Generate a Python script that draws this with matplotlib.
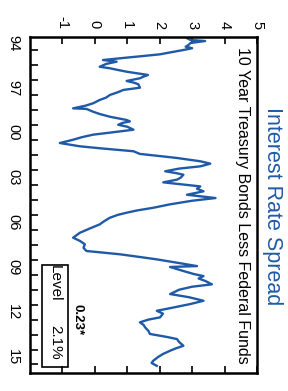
import matplotlib
matplotlib.use("Agg")
import matplotlib.pyplot as plt
from matplotlib.patches import Rectangle

plt.rcParams['font.family'] = ['Liberation Sans', 'DejaVu Sans']

# Spread (10Y Treasury minus Fed Funds), decimal year vs percent
years = [1993.60, 1993.69, 1993.80, 1993.87, 1994.00, 1994.13, 1994.25, 1994.35, 1994.47,
         1994.62, 1994.76, 1994.88, 1994.98, 1995.14, 1995.25, 1995.40, 1995.59, 1995.69,
         1995.80, 1995.92, 1996.14, 1996.25, 1996.36, 1996.54, 1996.65, 1996.76, 1996.99,
         1997.14, 1997.30, 1997.48, 1997.65, 1997.81, 1998.03, 1998.20, 1998.37, 1998.41,
         1998.60, 1998.75, 1998.93, 1999.15, 1999.24, 1999.35, 1999.47, 1999.60, 1999.80,
         2000.00, 2000.13, 2000.30, 2000.47, 2000.69, 2000.91, 2001.05, 2001.24, 2001.42,
         2001.55, 2001.69, 2001.91, 2002.07, 2002.25, 2002.40, 2002.58, 2002.70, 2002.81,
         2003.00, 2003.14, 2003.32, 2003.59, 2003.75, 2003.92, 2004.15, 2004.37, 2004.55,
         2004.79, 2005.02, 2005.20, 2005.35, 2005.50, 2005.69, 2005.90, 2006.13, 2006.40,
         2006.69, 2007.02, 2007.25, 2007.46, 2007.70, 2007.91, 2008.13, 2008.30, 2008.47,
         2008.70, 2008.92, 2008.98, 2009.25, 2009.45, 2009.59, 2009.75, 2009.92, 2010.14,
         2010.30, 2010.50, 2010.79, 2011.00, 2011.24, 2011.46, 2011.70, 2011.91, 2012.10,
         2012.35, 2012.50, 2012.68, 2012.85, 2013.02, 2013.25, 2013.46, 2013.65, 2013.80,
         2014.00, 2014.25, 2014.42, 2014.58, 2014.80, 2015.00, 2015.25, 2015.40, 2015.59]
spread = [2.79, 2.85, 2.95, 3.40, 2.95, 2.89, 2.80, 3.00, 2.73,
          2.35, 2.00, 1.45, 0.98, 0.25, 0.67, 0.35, 0.15, 0.46,
          0.70, 0.98, 1.64, 1.50, 1.39, 0.98, 1.20, 1.34, 1.39,
          0.88, 0.70, 0.46, 0.35, 0.15, -0.05, -0.30, -0.67, -0.26,
          -0.05, 0.15, 0.46, 0.98, 1.08, 0.85, 0.72, 1.00, 1.19,
          0.45, -0.05, -0.40, -0.67, -1.08, -0.46, 0.20, 1.19, 1.39,
          1.95, 2.53, 3.25, 3.56, 3.25, 2.60, 2.17, 2.50, 2.73,
          2.65, 2.53, 2.11, 3.25, 3.15, 3.35, 2.84, 3.72, 3.00,
          2.32, 1.80, 1.30, 0.98, 0.70, 0.46, 0.30, 0.15, -0.15,
          -0.46, -0.67, -0.45, -0.31, -0.35, -0.26, 0.77, 1.35, 1.91,
          2.55, 3.15, 2.32, 2.73, 3.05, 3.35, 3.20, 3.41, 3.61,
          3.00, 2.60, 2.32, 2.90, 3.35, 2.94, 2.40, 1.91, 2.10,
          2.01, 1.65, 1.39, 1.50, 1.55, 1.65, 1.70, 2.20, 2.53,
          2.60, 2.73, 2.50, 2.32, 2.10, 1.95, 1.80, 1.75, 1.91]

value_ticks = [-1, 0, 1, 2, 3, 4, 5]
value_labels = ['-1', '0', '1', '2', '3', '4', '5']
year_ticks = [1994, 1997, 2000, 2003, 2006, 2009, 2012, 2015]
year_labels = ['94', '97', '00', '03', '06', '09', '12', '15']
year_minor = [y + 0.5 for y in range(1994, 2016)]

title = 'Interest Rate Spread'
subtitle = '10 Year Treasury Bonds Less Federal Funds'
stat_text = '0.23*'
level_name = 'Level'
level_value = '2.1%'

blue = '#1f5aa8'

fig = plt.figure(figsize=(2.88, 3.91), dpi=100)
ax = fig.add_axes([30/288, 1-373/391, 227/288, 336/391])
ax.plot(spread, years, color=blue, lw=1.7)
ax.set_xlim(-2, 5)
ax.set_ylim(2016.07, 1993.60)

for s in ax.spines.values():
    s.set_linewidth(1.8)
    s.set_color('black')

ax.set_xticks(value_ticks)
ax.set_xticklabels(value_labels)
ax.tick_params(axis='x', which='major', direction='in', top=True, bottom=True,
               labeltop=True, labelbottom=False, length=5, width=1.2,
               labelrotation=-90, labelsize=10.5, pad=6)
for lab in ax.get_xticklabels():
    lab.set_verticalalignment('bottom')

ax.set_yticks(year_ticks)
ax.set_yticklabels(year_labels)
ax.set_yticks(year_minor, minor=True)
ax.tick_params(axis='y', which='major', length=0, labelrotation=-90,
               labelsize=10.5, pad=7, left=True, right=False)
ax.tick_params(axis='y', which='minor', direction='in', length=6, width=1.2,
               left=True, right=False)
for lab in ax.get_yticklabels():
    lab.set_verticalalignment('center')
    lab.set_horizontalalignment('right')

fig.text(272/288, 1-206/391, title, color=blue, fontsize=15.5, rotation=-90,
         ha='center', va='center')
ax.text(0.938, 0.5, subtitle, transform=ax.transAxes, fontsize=11.5,
        rotation=-90, ha='center', va='center', color='black')
ax.text(0.211, 0.158, stat_text, transform=ax.transAxes, fontsize=9.5,
        fontweight='bold', rotation=-90, ha='center', va='center')
ax.add_patch(Rectangle((0.053, 0.018), 0.114, 0.303, transform=ax.transAxes,
                       fill=True, facecolor='white', edgecolor='black', lw=1.2))
ax.text(0.11, 0.268, level_name, transform=ax.transAxes, fontsize=11,
        rotation=-90, ha='center', va='center')
ax.text(0.11, 0.09, level_value, transform=ax.transAxes, fontsize=11,
        rotation=-90, ha='center', va='center')

fig.savefig('out.png', dpi=100)
